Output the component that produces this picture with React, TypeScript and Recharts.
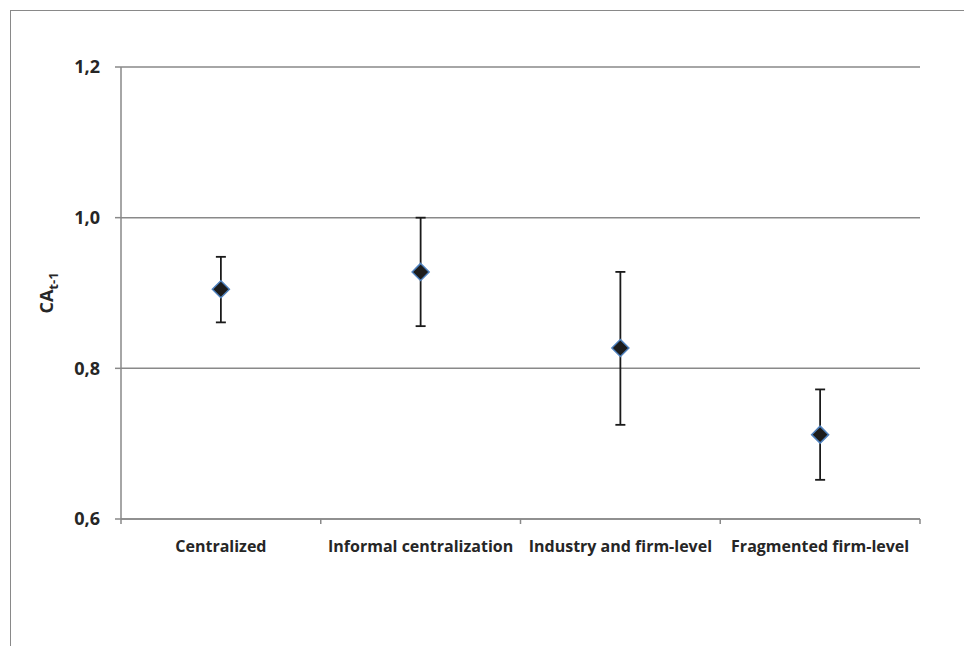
import React from 'react';
import {
  CartesianGrid, ComposedChart, ErrorBar, Line, XAxis, YAxis
} from 'recharts';

// wage-bargaining regimes and the CA(t-1) estimate with its interval
const regimes = ['Centralized', 'Informal centralization', 'Industry and firm-level', 'Fragmented firm-level'];
const means = [0.905, 0.928, 0.827, 0.712];
const lows = [0.861, 0.856, 0.725, 0.652];
const highs = [0.948, 1.0, 0.928, 0.772];
const yTicks = [0.6, 0.8, 1.0, 1.2];

const data = regimes.map((name, i) => ({
  name,
  ca: means[i],
  err: [means[i] - lows[i], highs[i] - means[i]],
}));

const GREY = '#898989';
const TEXT = '#262626';
const FONT = '"Open Sans", "Noto Sans", sans-serif';

const Diamond = (props: any) => {
  const { cx, cy } = props;
  if (cx == null || cy == null) return null;
  const r = 8.5;
  return (
    <polygon
      points={`${cx},${cy - r} ${cx + r},${cy} ${cx},${cy + r} ${cx - r},${cy}`}
      fill="#1c1c1c"
      stroke="#4f81bd"
      strokeWidth={1.5}
    />
  );
};

const CategoryTick = (props: any) => {
  const { x, y, payload, index, width, visibleTicksCount } = props;
  const half = width && visibleTicksCount ? width / visibleTicksCount / 2 : 100;
  const last = index === (visibleTicksCount ?? regimes.length) - 1;
  return (
    <g>
      <line x1={x - half} y1={y} x2={x - half} y2={y + 5} stroke={GREY} strokeWidth={1.5} />
      {last && <line x1={x + half} y1={y} x2={x + half} y2={y + 5} stroke={GREY} strokeWidth={1.5} />}
      <text x={x} y={y + 33} textAnchor="middle" fontFamily={FONT} fontWeight={700} fontSize={16} fill={TEXT}>
        {payload.value}
      </text>
    </g>
  );
};

const AxisTitle = (props: any) => {
  const { viewBox } = props;
  const cx = viewBox.x - 8;
  const cy = viewBox.y + viewBox.height / 2;
  return (
    <text
      x={cx}
      y={cy}
      transform={`rotate(-90, ${cx}, ${cy})`}
      textAnchor="middle"
      fontFamily={FONT}
      fontWeight={700}
      fontSize={18}
      fill={TEXT}
    >
      CA<tspan dy={5} fontSize={13}>t-1</tspan>
    </text>
  );
};

const App = () => {
  return (
    <div
      style={{
        position: 'absolute',
        left: 10,
        top: 10,
        width: 954,
        height: 636,
        boxSizing: 'border-box',
        borderLeft: `1px solid ${GREY}`,
        borderTop: `1px solid ${GREY}`,
        background: '#fff',
      }}
    >
      <ComposedChart
        width={953}
        height={635}
        data={data}
        margin={{ top: 56, right: 44, left: 50, bottom: 87 }}
      >
        <CartesianGrid vertical={false} stroke={GREY} strokeWidth={1.5} />
        <XAxis
          dataKey="name"
          scale="band"
          interval={0}
          height={40}
          axisLine={{ stroke: GREY, strokeWidth: 1.5 }}
          tickLine={false}
          tickSize={0}
          tickMargin={0}
          tick={<CategoryTick />}
        />
        <YAxis
          width={60}
          domain={[0.6, 1.2]}
          ticks={yTicks}
          allowDataOverflow
          axisLine={{ stroke: GREY, strokeWidth: 1.5 }}
          tickLine={{ stroke: GREY, strokeWidth: 1.5 }}
          tickSize={6}
          tickMargin={15}
          tickFormatter={(v: number) => v.toFixed(1).replace('.', ',')}
          tick={{ fontFamily: FONT, fontWeight: 700, fontSize: 18, fill: TEXT }}
          label={<AxisTitle />}
        />
        <Line
          dataKey="ca"
          stroke="none"
          strokeWidth={0}
          dot={<Diamond />}
          activeDot={false}
          isAnimationActive={false}
        >
          <ErrorBar
            dataKey="err"
            direction="y"
            width={5}
            stroke="#1a1a1a"
            strokeWidth={1.8}
            isAnimationActive={false}
          />
        </Line>
      </ComposedChart>
    </div>
  );
};

export default App;
